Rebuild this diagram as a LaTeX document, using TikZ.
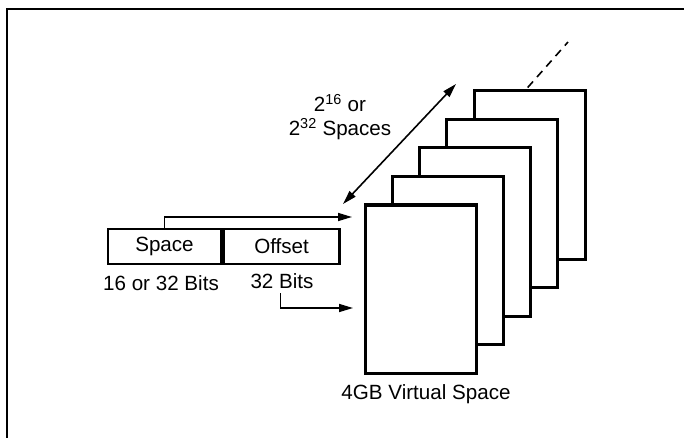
\documentclass[tikz,border=0pt]{standalone}
\usepackage{fontspec}
\setmainfont{Liberation Sans}
\usetikzlibrary{arrows.meta,calc}
\begin{document}
\begin{tikzpicture}[x=1pt,y=-1pt,
  lbl/.style={inner sep=0pt,font=\fontsize{20.6}{24}\selectfont},
  field/.style={draw,line width=2.6pt,minimum height=35pt,inner sep=0pt,font=\fontsize{20.6}{24}\selectfont},
  page/.style={draw,fill=white,line width=3pt,minimum width=111pt,minimum height=168pt,inner sep=0pt},
  conn/.style={line width=1.6pt,-{Triangle[length=14pt,width=8pt]}},
  frame/.style={line width=1.4pt}]
\useasboundingbox (0,0) rectangle (684,438);
\draw[frame] (7,438) -- (7,9) -- (684,9);
% pages, back to front
\foreach \i in {4,3,2,1,0} {
  \node[page] (p\i) at ({420.5+27.3*\i},{289-28.5*\i}) {};
}
% dashed continuation
\coordinate (dashend) at (568,42);
\draw[line width=1.6pt,dash pattern=on 8pt off 6pt] ($(p4.north)+(-2,-2)$) -- (dashend);
% address fields
\node[field,minimum width=113pt] (space) at (164.5,246.5) {Space};
\node[field,minimum width=116pt,anchor=west] (offset) at (space.east) {Offset};
\node[lbl] (spbits) at (161,283) {16 or 32 Bits};
\node[lbl] (offbits) at (282,281) {32 Bits};
\node[lbl,align=center] (count) at (340,117) {2\textsuperscript{16} or\\2\textsuperscript{32} Spaces};
\node[lbl] (vs) at (426,394) {4GB Virtual Space};
% connectors
\coordinate (upend) at (352,217);
\coordinate (lowstart) at (280.5,293);
\coordinate (lowend) at (353,308);
\coordinate (dlow) at (343,204);
\coordinate (dhigh) at (456,84);
\draw[conn] (space.north) |- (upend);
\draw[conn] (lowstart) |- (lowend);
\draw[line width=1.6pt,{Triangle[length=14pt,width=8pt]}-{Triangle[length=14pt,width=8pt]}] (dlow) -- (dhigh);
\end{tikzpicture}
\end{document}
